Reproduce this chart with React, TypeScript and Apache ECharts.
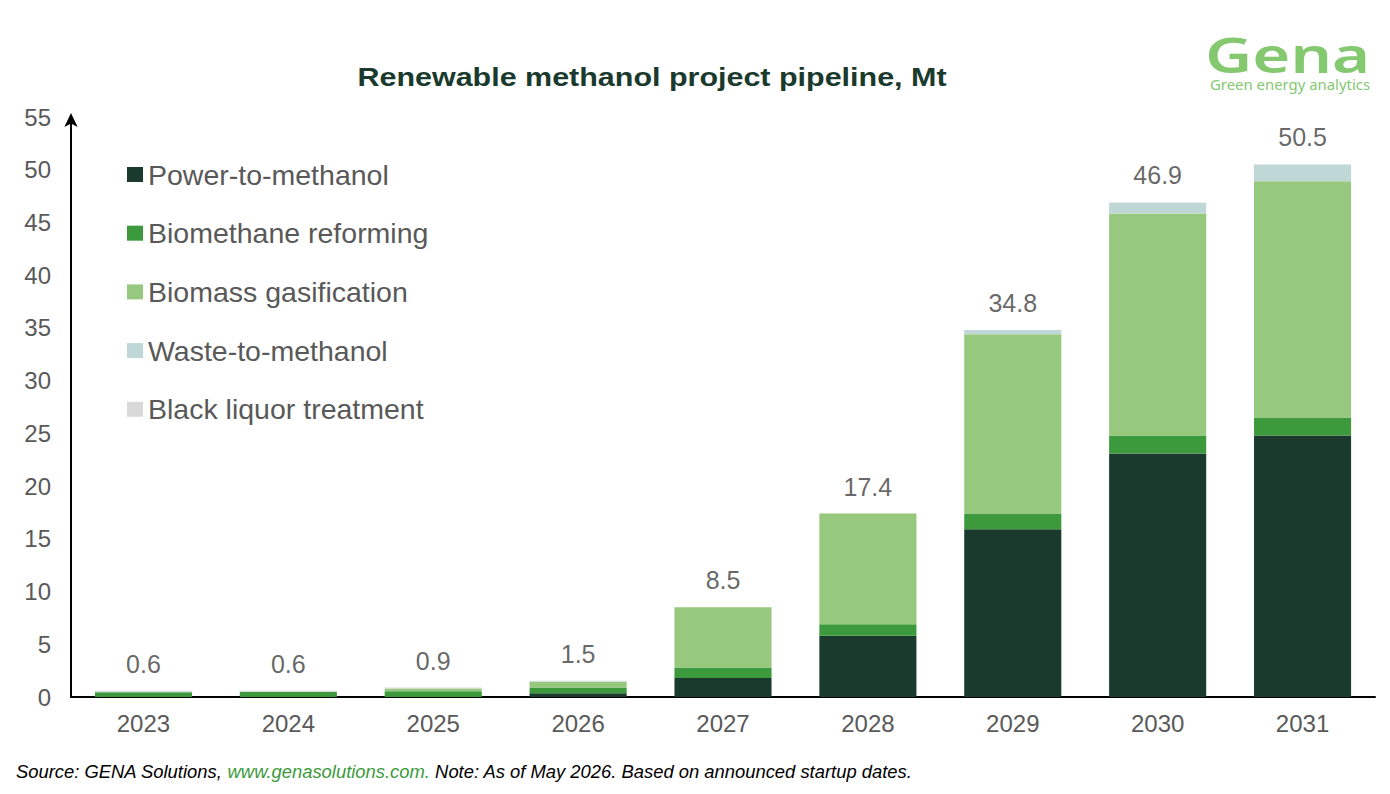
import React, { useEffect, useRef } from "react";
import * as echarts from "echarts";

const years = ["2023", "2024", "2025", "2026", "2027", "2028", "2029", "2030", "2031"];
const powerToMethanol = [0, 0, 0, 0.35, 1.8, 5.8, 15.9, 23.1, 24.8];
const biomethaneReforming = [0.45, 0.5, 0.55, 0.55, 1.0, 1.1, 1.5, 1.7, 1.7];
const biomassGasification = [0, 0, 0.25, 0.55, 5.7, 10.5, 17.0, 21.05, 22.4];
const wasteToMethanol = [0.1, 0, 0, 0.05, 0, 0, 0.4, 1.0, 1.6];
const blackLiquor = [0.05, 0.1, 0.1, 0.05, 0, 0, 0, 0.05, 0];
const totals = [0.6, 0.6, 0.9, 1.5, 8.5, 17.4, 34.8, 46.9, 50.5];
const yTicks = [0, 5, 10, 15, 20, 25, 30, 35, 40, 45, 50, 55];

const seriesDefs = [
  { name: "Power-to-methanol", data: powerToMethanol, color: "#1A3A2E" },
  { name: "Biomethane reforming", data: biomethaneReforming, color: "#3C9A3C" },
  { name: "Biomass gasification", data: biomassGasification, color: "#96C87D" },
  { name: "Waste-to-methanol", data: wasteToMethanol, color: "#BFD7D7" },
  { name: "Black liquor treatment", data: blackLiquor, color: "#D9D9D9" },
];

export default function App() {
  const ref = useRef<HTMLDivElement>(null);
  useEffect(() => {
    document.body.style.margin = "0";
    const chart = echarts.init(ref.current!, null, { renderer: "svg" });
    const font = "Liberation Sans, Arial, sans-serif";
    const logoFont = "Noto Sans, sans-serif";
    chart.setOption({
      animation: false,
      backgroundColor: "#ffffff",
      textStyle: { fontFamily: font },
      legend: {
        orient: "vertical",
        left: 122,
        top: 155,
        itemWidth: 16,
        itemHeight: 15,
        itemGap: 29.7,
        icon: "rect",
        textStyle: { fontSize: 28.5, color: "#595959", fontFamily: font },
        data: seriesDefs.map((s) => s.name),
      },
      grid: { left: 71, right: 15, top: 117, bottom: 97, containLabel: false },
      xAxis: {
        type: "category",
        data: years,
        axisLine: { lineStyle: { color: "#000000", width: 2 } },
        axisTick: { show: false },
        axisLabel: { fontSize: 24, color: "#595959", margin: 14, fontFamily: font },
      },
      yAxis: {
        type: "value",
        min: 0,
        max: yTicks[yTicks.length - 1],
        interval: 5,
        splitLine: { show: false },
        axisLine: {
          show: true,
          lineStyle: { color: "#000000", width: 2 },
          symbol: ["none", "arrow"],
          symbolSize: [10, 14],
          symbolOffset: [0, 4],
        },
        axisTick: { show: false },
        axisLabel: { fontSize: 24, color: "#595959", margin: 20, fontFamily: font },
      },
      series: [
        ...seriesDefs.map((s) => ({
          name: s.name,
          type: "bar",
          stack: "total",
          barCategoryGap: "33%",
          data: s.data,
          itemStyle: { color: s.color },
        })),
        {
          name: "Total",
          type: "scatter",
          data: totals,
          symbolSize: 1,
          itemStyle: { color: "rgba(0,0,0,0)" },
          label: {
            show: true,
            position: "top",
            distance: 14,
            fontSize: 25,
            color: "#404040",
            fontFamily: font,
            formatter: (p: any) => p.value.toFixed(1),
          },
          tooltip: { show: false },
        },
      ],
      graphic: [
        {
          type: "text",
          x: 652,
          y: 77,
          scaleX: 1.15,
          style: {
            text: "Renewable methanol project pipeline, Mt",
            fontSize: 26.5,
            fontWeight: "bold",
            fontFamily: font,
            fill: "#1A3A2E",
            textAlign: "center",
            textVerticalAlign: "middle",
          },
        },
        {
          type: "text",
          x: 1205,
          y: 54,
          scaleX: 1.33,
          style: {
            text: "Gena",
            fontSize: 49,
            fontWeight: 600,
            fontFamily: logoFont,
            fill: "#84C870",
            textVerticalAlign: "middle",
          },
        },
        {
          type: "text",
          x: 1210,
          y: 84,
          style: {
            text: "Green energy analytics",
            fontSize: 14.9,
            fontFamily: logoFont,
            fill: "#84C870",
            textVerticalAlign: "middle",
          },
        },
        {
          type: "text",
          x: 16,
          y: 771,
          style: {
            text: "{a|Source: GENA Solutions, }{b|www.genasolutions.com.}{a| Note: As of May 2026. Based on announced startup dates.}",
            textVerticalAlign: "middle",
            rich: {
              a: { fontSize: 18.4, fontStyle: "italic", fill: "#000000", fontFamily: font },
              b: { fontSize: 18.4, fontStyle: "italic", fill: "#3C9A3C", fontFamily: font },
            },
          },
        },
      ],
    });
    return () => chart.dispose();
  }, []);
  return <div ref={ref} style={{ position: "absolute", left: 0, top: 0, width: 1390, height: 794 }} />;
}
